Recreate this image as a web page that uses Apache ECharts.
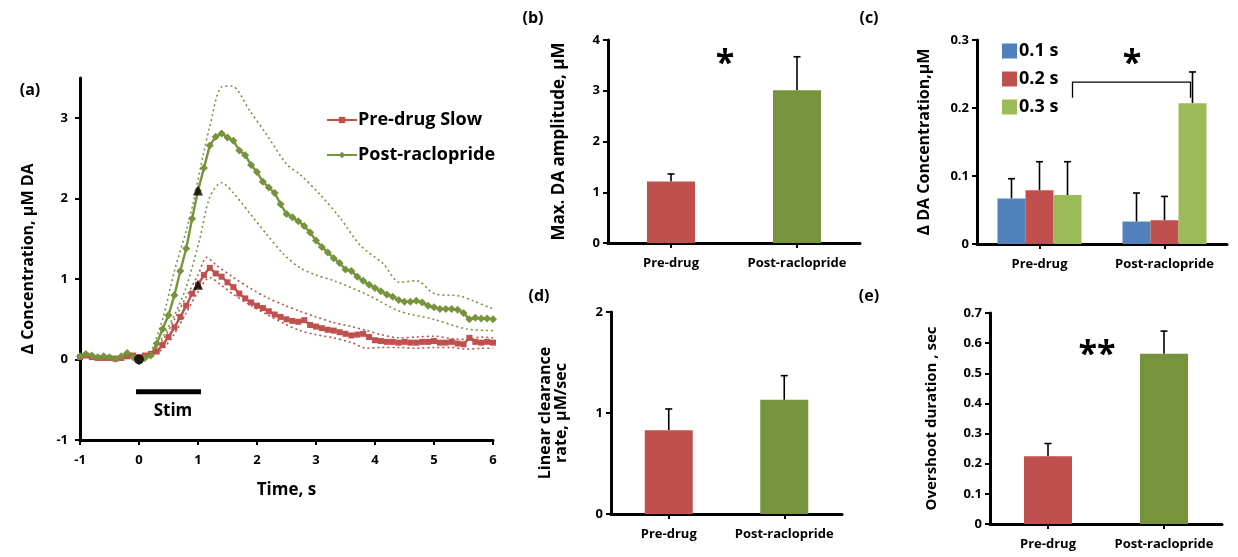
<!DOCTYPE html>
<html>
<head>
<meta charset="utf-8">
<script src="https://cdn.jsdelivr.net/npm/echarts@6/dist/echarts.min.js"></script>
<style>
  html, body { margin: 0; padding: 0; background: #fff; }
  #chart { width: 1238px; height: 557px; }
</style>
</head>
<body>
<div id="chart"></div>
<script>
// ---- panel (a): time course ----
const times = [-1.0,-0.9,-0.8,-0.7,-0.6,-0.5,-0.4,-0.3,-0.2,-0.1,0.0,0.1,0.2,0.3,0.4,0.5,0.6,0.7,0.8,0.9,
  1.0,1.1,1.2,1.3,1.4,1.5,1.6,1.7,1.8,1.9,2.0,2.1,2.2,2.3,2.4,2.5,2.6,2.7,2.8,2.9,
  3.0,3.1,3.2,3.3,3.4,3.5,3.6,3.7,3.8,3.9,4.0,4.1,4.2,4.3,4.4,4.5,4.6,4.7,4.8,4.9,
  5.0,5.1,5.2,5.3,5.4,5.5,5.6,5.7,5.8,5.9,6.0];
const preDrug = [0.03,0.05,0.03,0.02,0.02,0.02,0.01,0.02,0.04,0.05,0.03,0.05,0.07,0.10,0.18,0.28,0.40,0.53,0.67,0.82,
  0.93,1.05,1.14,1.07,1.03,0.96,0.90,0.82,0.76,0.71,0.67,0.64,0.60,0.56,0.53,0.50,0.48,0.47,0.49,0.43,
  0.41,0.39,0.37,0.36,0.34,0.32,0.30,0.31,0.32,0.28,0.24,0.23,0.22,0.22,0.21,0.22,0.21,0.21,0.22,0.22,
  0.23,0.21,0.21,0.22,0.20,0.19,0.27,0.22,0.21,0.22,0.21];
const postRaclo = [0.04,0.07,0.05,0.03,0.04,0.03,0.01,0.04,0.08,0.03,-0.02,0.02,0.05,0.20,0.38,0.55,0.80,1.10,1.38,1.75,
  2.10,2.38,2.66,2.77,2.81,2.76,2.72,2.60,2.54,2.42,2.33,2.21,2.14,2.07,1.93,1.81,1.77,1.72,1.66,1.58,
  1.48,1.40,1.33,1.26,1.20,1.12,1.10,1.03,0.98,0.93,0.89,0.85,0.81,0.78,0.74,0.72,0.72,0.73,0.71,0.67,
  0.65,0.63,0.63,0.63,0.62,0.58,0.50,0.52,0.51,0.51,0.50];
// SEM envelopes (dotted), read at coarser times
const preUpper = [[0.2,0.09],[0.4,0.24],[0.6,0.50],[0.8,0.78],[1.0,1.05],[1.15,1.27],[1.3,1.18],[1.6,1.02],[1.9,0.88],[2.17,0.77],
  [2.45,0.68],[2.73,0.60],[3.0,0.53],[3.3,0.46],[3.6,0.41],[3.86,0.36],[4.1,0.31],[4.42,0.27],[4.7,0.28],[5.0,0.29],[5.3,0.26],[5.55,0.25],[5.8,0.28],[6.0,0.27]];
const preLower = [[0.2,0.05],[0.4,0.13],[0.6,0.32],[0.8,0.58],[1.0,0.84],[1.2,1.02],[1.4,0.92],[1.6,0.81],[1.9,0.67],[2.17,0.56],
  [2.45,0.45],[2.73,0.36],[3.0,0.31],[3.3,0.27],[3.6,0.21],[3.86,0.14],[4.1,0.15],[4.42,0.15],[4.7,0.14],[5.0,0.15],[5.3,0.15],[5.55,0.13],[5.8,0.14],[6.0,0.14]];
const postUpper = [[0.2,0.08],[0.4,0.50],[0.6,1.10],[0.8,1.60],[0.92,1.95],[1.09,2.55],[1.2,2.90],[1.4,3.39],[1.57,3.40],[1.88,3.09],
  [2.16,2.80],[2.5,2.43],[2.73,2.30],[3.07,2.05],[3.41,1.76],[3.75,1.42],[4.14,1.19],[4.42,0.96],[4.71,0.98],[5.0,0.82],[5.44,0.79],[5.66,0.73],[6.0,0.63]];
const postLower = [[0.2,0.03],[0.4,0.28],[0.6,0.55],[0.8,0.90],[1.03,1.50],[1.2,2.02],[1.4,2.20],[1.6,2.07],[1.94,1.76],[2.16,1.56],
  [2.45,1.31],[2.73,1.14],[3.0,1.05],[3.3,0.98],[3.86,0.81],[4.42,0.60],[5.0,0.50],[5.55,0.38],[6.0,0.36]];
const stimBar = [[-0.05,-0.4],[1.05,-0.4]];
const circleMark = [[0,0]];
const triangleMarks = [[1,0.93],[1,2.1]];

// ---- bar panels ----
const groups = ['Pre-drug', 'Post-raclopride'];
const maxAmp = [1.21, 3.01];
const maxAmpErr = [0.15, 0.66];
const delayNames = ['0.1 s', '0.2 s', '0.3 s'];
const delta01 = [0.067, 0.033];
const delta02 = [0.079, 0.035];
const delta03 = [0.072, 0.207];
const delta01Err = [0.029, 0.042];
const delta02Err = [0.042, 0.035];
const delta03Err = [0.049, 0.046];
const clearance = [0.83, 1.13];
const clearanceErr = [0.21, 0.24];
const overshoot = [0.225, 0.565];
const overshootErr = [0.042, 0.075];

const RED = '#C0504D', OLIVE = '#77933C', BLUE = '#4F81BD', LGREEN = '#9BBB59';
const FONT = 'Open Sans';

const chart = echarts.init(document.getElementById('chart'));

const axisLine = { show: true, onZero: false, lineStyle: { color: '#000', width: 3 } };
const axisTick = { show: true, inside: false, length: 5, lineStyle: { color: '#000', width: 2 } };
const tickLabel = { color: '#000', fontFamily: FONT, fontWeight: 'bold', fontSize: 13 };
const titleText = { color: '#000', fontFamily: FONT, fontWeight: 'bold', fontSize: 16 };

function catAxis(gi) {
  return {
    type: 'category', gridIndex: gi, data: groups,
    axisLine, axisTick: Object.assign({ alignWithLabel: true }, axisTick),
    axisLabel: Object.assign({ margin: 14, interval: 0 }, tickLabel), splitLine: { show: false }
  };
}
function valAxis(gi, max, interval, name, gap, size) {
  return {
    type: 'value', gridIndex: gi, min: 0, max, interval,
    name, nameLocation: 'middle', nameGap: gap, nameRotate: 90,
    nameTextStyle: Object.assign({}, titleText, { fontSize: size }),
    axisLine, axisTick,
    axisLabel: Object.assign({ margin: 8 }, tickLabel), splitLine: { show: false }
  };
}
function errorBars(gi, vals, errs, offset) {
  return {
    type: 'custom', xAxisIndex: gi, yAxisIndex: gi, z: 1, silent: true,
    data: vals.map((v, i) => [i, v, v + errs[i]]),
    renderItem: (params, api) => {
      const base = api.coord([api.value(0), api.value(1)]);
      const top = api.coord([api.value(0), api.value(2)]);
      const x = base[0] + offset;
      const st = { stroke: '#000', lineWidth: 1.6 };
      return { type: 'group', children: [
        { type: 'line', shape: { x1: x, y1: base[1], x2: x, y2: top[1] }, style: st },
        { type: 'line', shape: { x1: x - 3.5, y1: top[1], x2: x + 3.5, y2: top[1] }, style: st }
      ] };
    }
  };
}
function simpleBars(gi, vals) {
  return {
    type: 'bar', xAxisIndex: gi, yAxisIndex: gi, barWidth: 48, z: 2,
    data: vals.map((v, i) => ({ value: v, itemStyle: { color: i === 0 ? RED : OLIVE } }))
  };
}
const pair = arr => times.map((t, i) => [t, arr[i]]);
function band(gi, data, color) {
  return {
    type: 'line', xAxisIndex: gi, yAxisIndex: gi, data, smooth: 0.3, showSymbol: false, silent: true,
    lineStyle: { color, width: 1.6, type: [2, 3] }, z: 1
  };
}
const label = (x, y, text, size) => ({
  type: 'text', x, y, style: { text, font: 'bold ' + size + 'px "Open Sans"', fill: '#000', textAlign: 'center', textVerticalAlign: 'middle' }
});

const option = {
  animation: false,
  backgroundColor: '#fff',
  grid: [
    { left: 80, right: 745, top: 78, bottom: 117, outerBoundsMode: 'none' },
    { left: 608, right: 378, top: 40, bottom: 314, outerBoundsMode: 'none' },
    { left: 977, right: 11, top: 40, bottom: 313, outerBoundsMode: 'none' },
    { left: 611, right: 396, top: 312, bottom: 43, outerBoundsMode: 'none' },
    { left: 990, right: 16, top: 313, bottom: 33, outerBoundsMode: 'none' }
  ],
  xAxis: [
    {
      type: 'value', gridIndex: 0, min: -1, max: 6, interval: 1,
      name: 'Time, s', nameLocation: 'middle', nameGap: 42, nameTextStyle: Object.assign({}, titleText, { fontSize: 17 }),
      axisLine, axisTick,
      axisLabel: Object.assign({ margin: 14 }, tickLabel), splitLine: { show: false }
    },
    catAxis(1), catAxis(2), catAxis(3), catAxis(4)
  ],
  yAxis: [
    {
      type: 'value', gridIndex: 0, min: -1, max: 3.5, interval: 1,
      name: 'Δ Concentration, μM DA', nameLocation: 'middle', nameGap: 44, nameRotate: 90,
      nameTextStyle: Object.assign({}, titleText, { fontSize: 16 }),
      axisLine,
      axisTick: Object.assign({ customValues: [-1, 0, 1, 2, 3] }, axisTick),
      axisLabel: Object.assign({ margin: 12, customValues: [-1, 0, 1, 2, 3] }, tickLabel),
      splitLine: { show: false }
    },
    valAxis(1, 4, 1, 'Max. DA amplitude, μM', 40, 17),
    valAxis(2, 0.3, 0.1, 'Δ DA Concentration,μM', 45, 16),
    valAxis(3, 2, 1, 'Linear clearance\nrate, μM/sec', 42, 16),
    valAxis(4, 0.7, 0.1, 'Overshoot duration , sec', 51, 15)
  ],
  legend: [
    {
      left: 321, top: 106, orient: 'vertical', itemGap: 17, itemWidth: 30, itemHeight: 8,
      data: ['Pre-drug Slow', 'Post-raclopride'],
      textStyle: { color: '#000', fontFamily: FONT, fontWeight: 'bold', fontSize: 18, padding: [0, 0, 0, -4] }
    },
    {
      left: 997, top: 37, orient: 'vertical', itemGap: 10, itemWidth: 15, itemHeight: 15,
      data: delayNames, icon: 'rect',
      textStyle: { color: '#000', fontFamily: FONT, fontWeight: 'bold', fontSize: 18, padding: [0, 0, 0, -3] }
    }
  ],
  series: [
    band(0, preUpper, RED), band(0, preLower, RED),
    band(0, postUpper, OLIVE), band(0, postLower, OLIVE),
    {
      name: 'Pre-drug Slow', type: 'line', xAxisIndex: 0, yAxisIndex: 0, data: pair(preDrug),
      symbol: 'rect', symbolSize: 6, itemStyle: { color: RED }, lineStyle: { color: RED, width: 2.4 }, z: 3
    },
    {
      name: 'Post-raclopride', type: 'line', xAxisIndex: 0, yAxisIndex: 0, data: pair(postRaclo),
      symbol: 'diamond', symbolSize: 8, itemStyle: { color: OLIVE }, lineStyle: { color: OLIVE, width: 2.4 }, z: 3
    },
    {
      type: 'line', xAxisIndex: 0, yAxisIndex: 0, data: stimBar, showSymbol: false, silent: true,
      lineStyle: { color: '#000', width: 5, cap: 'butt' }
    },
    {
      type: 'scatter', xAxisIndex: 0, yAxisIndex: 0, data: circleMark, symbol: 'circle', symbolSize: 10,
      itemStyle: { color: '#000' }, z: 5
    },
    {
      type: 'scatter', xAxisIndex: 0, yAxisIndex: 0, data: triangleMarks, symbol: 'triangle', symbolSize: 10,
      itemStyle: { color: '#000' }, z: 5
    },
    // (b)
    simpleBars(1, maxAmp), errorBars(1, maxAmp, maxAmpErr, 0),
    // (c)
    { name: '0.1 s', type: 'bar', xAxisIndex: 2, yAxisIndex: 2, data: delta01, barWidth: 28, barGap: '0%', itemStyle: { color: BLUE }, z: 2 },
    { name: '0.2 s', type: 'bar', xAxisIndex: 2, yAxisIndex: 2, data: delta02, barWidth: 28, barGap: '0%', itemStyle: { color: RED }, z: 2 },
    { name: '0.3 s', type: 'bar', xAxisIndex: 2, yAxisIndex: 2, data: delta03, barWidth: 28, barGap: '0%', itemStyle: { color: LGREEN }, z: 2 },
    errorBars(2, delta01, delta01Err, -28), errorBars(2, delta02, delta02Err, 0), errorBars(2, delta03, delta03Err, 28),
    {
      type: 'custom', xAxisIndex: 2, yAxisIndex: 2, silent: true,
      data: [[0, 1, 0.238, 0.215]],
      renderItem: (params, api) => {
        const a = api.coord([api.value(0), api.value(2)]);
        const b = api.coord([api.value(1), api.value(2)]);
        const foot = api.coord([api.value(0), api.value(3)]);
        const x1 = a[0] + 33, x2 = b[0] + 26;
        return {
          type: 'polyline',
          shape: { points: [[x1, foot[1]], [x1, a[1]], [x2, a[1]], [x2, foot[1]]] },
          style: { stroke: '#000', lineWidth: 1.3, fill: null }
        };
      }
    },
    // (d)
    simpleBars(3, clearance), errorBars(3, clearance, clearanceErr, 0),
    // (e)
    simpleBars(4, overshoot), errorBars(4, overshoot, overshootErr, 0)
  ],
  graphic: [
    label(30, 90, '(a)', 16),
    label(533, 18, '(b)', 16),
    label(869, 18, '(c)', 16),
    label(539, 296, '(d)', 16),
    label(869, 296, '(e)', 16),
    label(173, 411, 'Stim', 17),
    label(725, 64, '*', 34),
    label(1132, 64, '*', 34),
    label(1097, 355, '**', 34)
  ]
};

chart.setOption(option);
</script>
</body>
</html>
